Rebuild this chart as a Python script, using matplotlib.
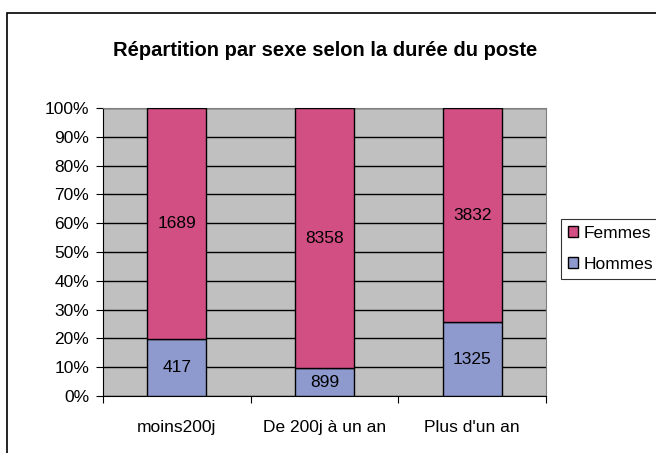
import numpy as np
import matplotlib.pyplot as plt
from matplotlib.patches import Rectangle
from matplotlib.ticker import PercentFormatter

plt.rcParams['font.family'] = ['Liberation Sans', 'DejaVu Sans']

# --- données ---
categories = ['moins200j', 'De 200j à un an', "Plus d'un an"]
hommes = np.array([417, 899, 1325])
femmes = np.array([1689, 8358, 3832])

total = hommes + femmes
p_h = hommes / total * 100
p_f = femmes / total * 100

fig = plt.figure(figsize=(6.56, 4.53), dpi=100)
fig.patch.set_facecolor('white')

# cadre du graphique
fig.patches.append(Rectangle((7 / 656, -0.1), 1.0, (453 - 13) / 453 + 0.1,
                             transform=fig.transFigure, fill=False,
                             edgecolor='black', lw=1.2))

ax = fig.add_axes([103 / 656, 57 / 453, 443 / 656, 288 / 453])
ax.set_facecolor('#C0C0C0')

x = np.arange(len(categories))
w = 0.4
b_h = ax.bar(x, p_h, w, color='#8E9ACE', edgecolor='black', lw=1, label='Hommes', zorder=3)
b_f = ax.bar(x, p_f, w, bottom=p_h, color='#D24F84', edgecolor='black', lw=1, label='Femmes', zorder=3)

for i in range(len(categories)):
    ax.text(x[i], p_h[i] / 2, str(hommes[i]), ha='center', va='center', fontsize=12.5, zorder=4)
    ax.text(x[i], p_h[i] + p_f[i] / 2, str(femmes[i]), ha='center', va='center', fontsize=12.5, zorder=4)

ax.set_xlim(-0.5, 2.5)
ax.set_ylim(0, 100)
ax.set_yticks(np.arange(0, 101, 10))
ax.yaxis.set_major_formatter(PercentFormatter(decimals=0))
ax.yaxis.grid(True, color='black', lw=1, zorder=1)
ax.set_axisbelow(True)

ax.set_xticks([-0.5, 0.5, 1.5, 2.5])
ax.set_xticklabels([])
ax.set_xticks(x, minor=True)
ax.set_xticklabels(categories, minor=True)
ax.tick_params(axis='x', which='minor', length=0, pad=17, labelsize=12.5)
ax.tick_params(axis='x', which='major', length=5, direction='out')
ax.tick_params(axis='y', length=5, direction='out', labelsize=12.5, pad=5)

ax.spines['top'].set_color('#808080')
ax.spines['right'].set_color('#808080')
ax.spines['left'].set_color('black')
ax.spines['bottom'].set_color('black')

fig.text(325 / 656, 1 - 50 / 453, 'Répartition par sexe selon la durée du poste',
         ha='center', va='center', fontsize=14.5, fontweight='bold')

handles = [b_f, b_h]
leg = fig.legend(handles, ['Femmes', 'Hommes'], loc='upper left',
                 bbox_to_anchor=(561 / 656, 1 - 219 / 453), fontsize=12.5,
                 frameon=True, fancybox=False, edgecolor='black',
                 handlelength=0.6, handleheight=0.6, handletextpad=0.3,
                 borderpad=0.4, labelspacing=0.9, borderaxespad=0)
leg.get_frame().set_linewidth(0.8)

fig.savefig('out.png', dpi=100)
